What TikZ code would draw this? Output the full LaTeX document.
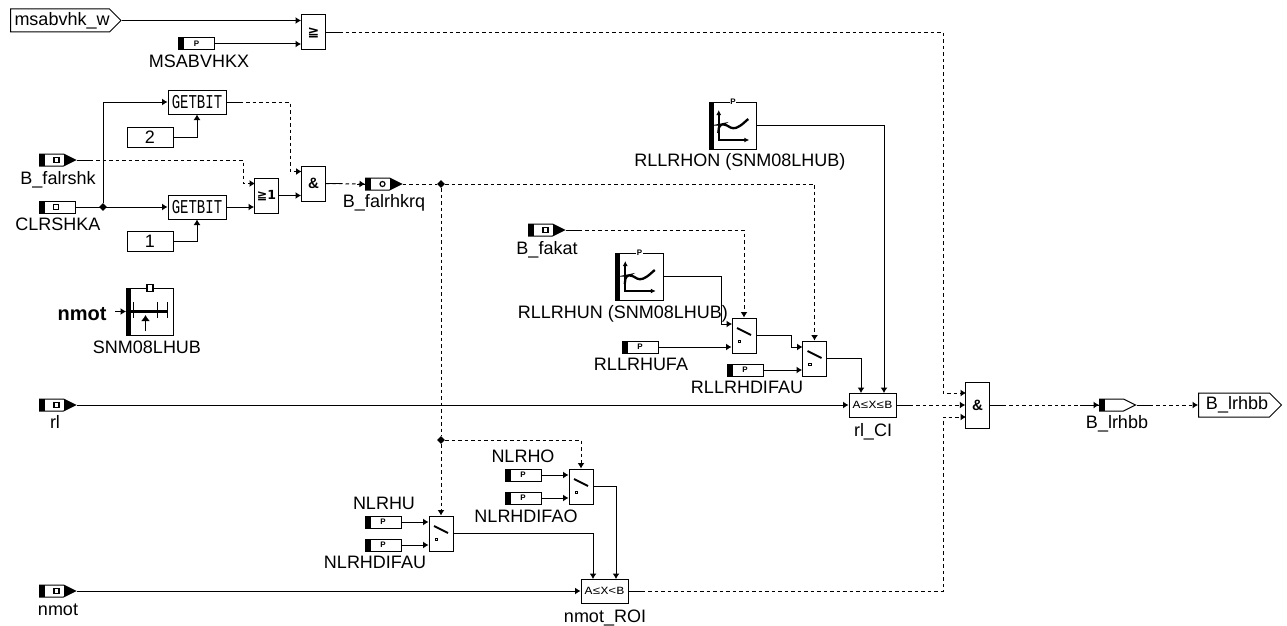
\documentclass[tikz,border=0pt]{standalone}
\usepackage{fontspec}
\setmainfont{Liberation Sans}
\newfontfamily\monofont{Liberation Mono}
\newfontfamily\symbfont{DejaVu Sans}
\usetikzlibrary{arrows.meta,shapes.geometric,shapes.symbols}
\tikzset{
  bloc/.style={draw,rectangle,inner sep=0pt,line width=1pt},
  lbl/.style={inner sep=0pt,text height=13pt,text depth=0pt,font=\fontsize{18}{18}\selectfont},
  fil/.style={line width=1pt},
  sig/.style={fil,-{Latex[length=5.5pt,width=7pt]}},
  sigd/.style={sig,dash pattern=on 3.5pt off 3pt},
  jonc/.style={diamond,fill,inner sep=0pt,minimum size=8pt},
  porte/.style={bloc,minimum width=24pt,minimum height=35pt},
  getbit/.style={bloc,minimum width=58pt,minimum height=24pt,font=\monofont\fontsize{14}{14}\selectfont},
  const/.style={bloc,minimum width=46pt,minimum height=20pt,font=\fontsize{18}{18}\selectfont},
  compar/.style={bloc,minimum width=47pt,minimum height=24pt,font=\monofont\fontsize{11}{11}\selectfont},
  param/.style={bloc,minimum width=36pt,minimum height=12pt,font=\bfseries\fontsize{8}{8}\selectfont,
    path picture={\fill (path picture bounding box.north west) rectangle ([xshift=5.5pt]path picture bounding box.south west);}},
  paramc/.style={bloc,minimum width=36pt,minimum height=12pt,
    path picture={
      \fill (path picture bounding box.north west) rectangle ([xshift=5.5pt]path picture bounding box.south west);
      \draw[fill=white,line width=1.2pt] ([xshift=17pt]path picture bounding box.west) +(-2.5pt,-2.5pt) rectangle +(2.5pt,2.5pt);}},
  msgin/.style={bloc,shape=signal,signal to=east,signal pointer angle=53,minimum width=36pt,minimum height=12pt,anchor=west,
    path picture={
      \fill (path picture bounding box.north west) rectangle ([xshift=5.5pt]path picture bounding box.south west);
      \fill (path picture bounding box.north east) rectangle ([xshift=-12pt]path picture bounding box.south east);
      \draw[fill=white,line width=1.2pt] ([xshift=17pt]path picture bounding box.west) #1;}},
  msgin/.default={+(-2.5pt,-2.5pt) rectangle +(2.5pt,2.5pt)},
  msgout/.style={bloc,shape=signal,signal to=east,signal pointer angle=53,minimum width=36pt,minimum height=12pt,anchor=west,
    path picture={\fill (path picture bounding box.north west) rectangle ([xshift=5.5pt]path picture bounding box.south west);}},
  borne/.style={bloc,shape=signal,signal to=east,signal pointer angle=90,anchor=west,font=\fontsize{18}{18}\selectfont},
  switch/.style={bloc,minimum width=24pt,minimum height=35pt,
    path picture={\begin{scope}[x=1pt,y=-1pt]
      \pgftransformshift{\pgfpoint{-12pt}{17.5pt}}
      \draw[line width=2pt] (5,10) -- (19,17);
      \draw[line width=1pt] (6,22) rectangle (8.5,24.5);
    \end{scope}}},
  courbe/.style={bloc,minimum width=47.5pt,minimum height=47pt,
    path picture={\begin{scope}[x=1pt,y=-1pt]
      \pgftransformshift{\pgfpoint{-23.75pt}{23.5pt}}
      \fill (0,0) rectangle (4.5,47);
      \draw[line width=1.7pt,{Latex[length=5pt,width=5pt]}-{Latex[length=5pt,width=5pt]}] (9.5,8) -- (9.5,38) -- (40,38);
      \draw[line width=2.3pt,rounded corners=3pt] (9,31) -- (10,23) -- (15,22) -- (24,27) -- (31,24) -- (39,17);
    \end{scope}}},
  axe/.style={bloc,minimum width=47pt,minimum height=47pt,
    path picture={\begin{scope}[x=1pt,y=-1pt]
      \pgftransformshift{\pgfpoint{-23.5pt}{23.5pt}}
      \fill (0,0) rectangle (4.5,47);
      \draw[line width=3pt] (4,23) -- (41,23);
      \draw[line width=1.8pt] (7,14) -- (7,30) (31,14) -- (31,30) (41,14) -- (41,30);
      \draw[line width=1.8pt,-{Latex[length=6pt,width=9pt]}] (19,43) -- (19,27);
    \end{scope}}},
  pmark/.style={fill=white,inner sep=0.6pt,font=\bfseries\fontsize{8}{8}\selectfont},
}
\begin{document}
\begin{tikzpicture}[x=1pt,y=-1pt]
    \useasboundingbox (0,0) rectangle (1287,626);

    % Entrees et parametres du haut
    \node[borne,minimum width=105pt,minimum height=23pt,inner sep=0pt] (msabvhk) at (10,20.5) {\hspace*{4pt}msabvhk\_w};
    \node[param] (msabvhkx) at (196.5,44) {P};
    \node[lbl] (msabvhkxl) at (199,61) {MSABVHKX};
    \node[msgin] (falrshk) at (39,160) {};
    \node[lbl] (falrshkl) at (58,178) {B\_falrshk};
    \node[paramc] (clrshka) at (57,207) {};
    \node[lbl] (clrshkal) at (58,224) {CLRSHKA};

    % Blocs logiques
    \node[porte,font=\symbfont\bfseries\fontsize{14}{14}\selectfont] (ge) at (313.5,32.5) {≧};
    \node[getbit] (gbh) at (197,102) {\scalebox{1}[1.4]{GETBIT}};
    \node[const] (deux) at (150,137) {2};
    \node[getbit] (gbb) at (197,207) {\scalebox{1}[1.4]{GETBIT}};
    \node[const] (un) at (150,241) {1};
    \node[porte,font=\symbfont\bfseries\fontsize{12.5}{13}\selectfont] (ou) at (266.5,195.5) {≧1};
    \node[porte,font=\bfseries\fontsize{15}{15}\selectfont] (et) at (313.5,183.5) {\&};
    \node[msgin={circle (2.5pt)}] (falrhkrq) at (365,184) {};
    \node[lbl] (falrhkrql) at (384,201) {B\_falrhkrq};
    \node[jonc] (j1) at (103,207) {};
    \node[jonc] (j2) at (441,184) {};
    \node[jonc] (j3) at (441,440) {};

    % Axe nmot
    \node[axe] (snm) at (150,311.5) {};
    \node[bloc,fill=white,minimum width=6pt,minimum height=7pt,line width=1.2pt] (snmp) at (150,288) {};
    \node[lbl,font=\bfseries\fontsize{20}{20}\selectfont] (nmotl) at (82,314) {nmot};
    \node[lbl] (snml) at (147,347) {SNM08LHUB};

    % Courbes RLLRHON et RLLRHUN
    \node[courbe] (rlhon) at (733,125.5) {};
    \node[pmark] (rlhonp) at (733,102) {P};
    \node[lbl] (rlhonl) at (740,160) {RLLRHON (SNM08LHUB)};
    \node[courbe] (rlhun) at (639.5,276.5) {};
    \node[pmark] (rlhunp) at (639.5,253) {P};
    \node[lbl] (rlhunl) at (623,312) {RLLRHUN (SNM08LHUB)};
    \node[msgin] (fakat) at (528,230) {};
    \node[lbl] (fakatl) at (547,248) {B\_fakat};
    \node[param] (rlhufa) at (640,347) {P};
    \node[lbl] (rlhufal) at (641,364) {RLLRHUFA};
    \node[param] (rlhdif) at (745,370) {P};
    \node[lbl] (rlhdifl) at (747,387) {RLLRHDIFAU};
    \node[switch] (sw1) at (744,335.5) {};
    \node[switch] (sw2) at (814.5,358.5) {};

    % Comparateurs et entrees rl, nmot
    \node[msgin] (rl) at (39,405) {};
    \node[lbl] (rll) at (55,422) {rl};
    \node[compar] (rlci) at (872.5,405) {\scalebox{1.2}[1]{A≤X≤B}};
    \node[lbl] (rlcil) at (873,430) {rl\_CI};
    \node[msgin] (nmot) at (39,591) {};
    \node[lbl] (nmotsl) at (58,609) {nmot};
    \node[compar] (nmotroi) at (604.5,591) {\scalebox{1.2}[1]{A≤X<B}};
    \node[lbl] (nmotroil) at (605,616) {nmot\_ROI};

    % Partie basse NLRH
    \node[param] (nlrho) at (523,475) {P};
    \node[lbl] (nlrhol) at (523,456) {NLRHO};
    \node[param] (nlrhdo) at (523,498) {P};
    \node[lbl] (nlrhdol) at (526,516) {NLRHDIFAO};
    \node[switch] (swh) at (581,486.5) {};
    \node[param] (nlrhu) at (383,522) {P};
    \node[lbl] (nlrhul) at (384,503) {NLRHU};
    \node[param] (nlrhdu) at (383,545) {P};
    \node[lbl] (nlrhdul) at (375,562) {NLRHDIFAU};
    \node[switch] (swb) at (441,533.5) {};

    % Sortie
    \node[bloc,minimum width=23.5pt,minimum height=46pt,font=\bfseries\fontsize{15}{15}\selectfont] (etf) at (977.5,405) {\&};
    \node[msgout] (lrhbb) at (1099,405) {};
    \node[lbl] (lrhbbl) at (1117,422) {B\_lrhbb};
    \node[borne,minimum width=83pt,minimum height=24pt,inner sep=0pt] (lrhbbo) at (1198,405) {\hspace*{6pt}B\_lrhbb};

    % Points de passage
    \coordinate (ouh) at (255,183.5);
    \coordinate (coude1) at (243,183.5);
    \coordinate (eth) at (301.5,171.5);
    \coordinate (coude2) at (290,171.5);
    \coordinate (s1h) at (732,324);
    \coordinate (coude3) at (721,324);
    \coordinate (s2h) at (802.5,347);
    \coordinate (coude4) at (791,347);
    \coordinate (eth2) at (966,393);
    \coordinate (etb2) at (966,417);
    \coordinate (bus) at (943,405);
    \coordinate (rc1) at (861,393);
    \coordinate (rc2) at (884,393);
    \coordinate (nr1) at (593,579);
    \coordinate (nr2) at (616,579);

    % Liaisons pleines
    \draw[sig] (msabvhk.east) -- (ge.west |- msabvhk.east);
    \draw[sig] (msabvhkx.east) -- (ge.west |- msabvhkx.east);
    \draw[sig] (clrshka.east) -- (gbb.west);
    \draw[sig] (j1) |- (gbh.west);
    \draw[sig] (deux.east) -| (gbh.south);
    \draw[sig] (un.east) -| (gbb.south);
    \draw[sig] (gbb.east) -- (ou.west |- gbb.east);
    \draw[sig] (ou.east) -- (et.west |- ou.east);
    \draw[sig] (nmotl.east |- snm.west) ++(8.5,0) -- (snm.west);
    \draw[sig] (rlhon.east) -| (rc2);
    \draw[sig] (rlhun.east) -| (coude3) -- (s1h);
    \draw[sig] (rlhufa.east) -- (sw1.west |- rlhufa.east);
    \draw[sig] (rlhdif.east) -- (sw2.west |- rlhdif.east);
    \draw[sig] (sw1.east) -| (coude4) -- (s2h);
    \draw[sig] (sw2.east) -| (rc1);
    \draw[sig] (rl.east) -- (rlci.west);
    \draw[sig] (nmot.east) -- (nmotroi.west);
    \draw[sig] (nlrho.east) -- (swh.west |- nlrho.east);
    \draw[sig] (nlrhdo.east) -- (swh.west |- nlrhdo.east);
    \draw[sig] (nlrhu.east) -- (swb.west |- nlrhu.east);
    \draw[sig] (nlrhdu.east) -- (swb.west |- nlrhdu.east);
    \draw[sig] (swh.east) -| (nr2);
    \draw[sig] (swb.east) -| (nr1);

    % Liaisons en pointilles
    \draw[sigd] (falrshk.east) -| (coude1) -- (ouh);
    \draw[sigd] (gbh.east) -| (coude2) -- (eth);
    \draw[sigd] (et.east) -- (falrhkrq.west);
    \draw[sigd,-] (falrhkrq.east) -- (j2);
    \draw[sigd] (j2) -| (sw2.north);
    \draw[sigd,-] (j2) -- (j3);
    \draw[sigd] (j3) -- (swb.north);
    \draw[sigd] (j3) -| (swh.north);
    \draw[sigd] (fakat.east) -| (sw1.north);
    \draw[sigd] (ge.east) -| (bus |- eth2) -- (eth2);
    \draw[sigd] (rlci.east) -- (etf.west);
    \draw[sigd] (nmotroi.east) -| (bus |- etb2) -- (etb2);
    \draw[sigd] (etf.east) -- (lrhbb.west);
    \draw[sigd] (lrhbb.east) -- (lrhbbo.west);

    % Departs pleins des liaisons en pointilles
    \foreach \a in {falrshk,gbh,et,fakat,ge,rlci,nmotroi,etf,lrhbb}
        \draw[fil] (\a.east) -- ++(14,0);
    \draw[fil] (falrhkrq.west) -- ++(-8,0);
    \draw[fil] (lrhbb.west) -- ++(-19,0);
\end{tikzpicture}
\end{document}
